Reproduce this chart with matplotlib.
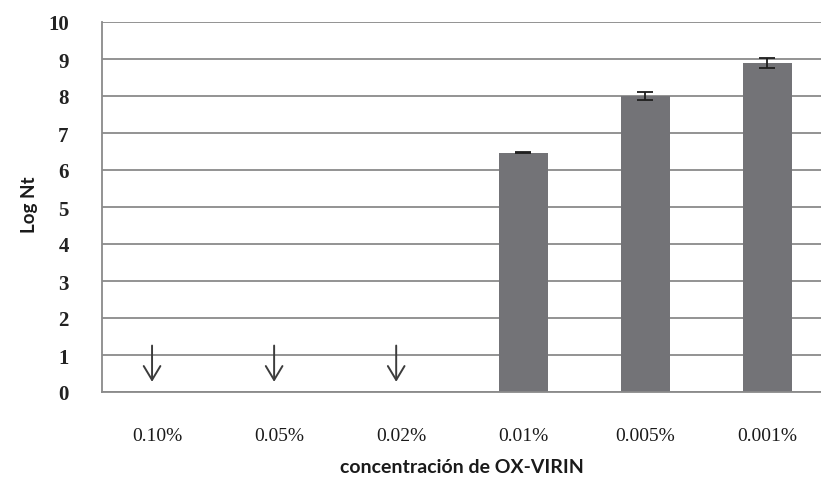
import numpy as np
import matplotlib
matplotlib.use("Agg")
import matplotlib.pyplot as plt

# Survival (Log Nt) at each OX-VIRIN concentration
categories = ["0.10%", "0.05%", "0.02%", "0.01%", "0.005%", "0.001%"]
log_nt = [np.nan, np.nan, np.nan, 6.47, 8.0, 8.9]
log_nt_err = [0.0, 0.0, 0.0, 0.02, 0.12, 0.14]
# concentrations with no surviving count (marked with a down arrow)
no_growth = [True, True, True, False, False, False]
y_ticks = list(range(0, 11))

W, H = 821, 489
fig = plt.figure(figsize=(W / 100, H / 100), dpi=100)
ax = fig.add_axes([102 / W, (H - 393) / H, (W - 102) / W, (393 - 23) / H])

x = np.arange(len(categories))
grid_col = "#8a8a8a"
ax.set_axisbelow(True)
ax.yaxis.grid(True, color=grid_col, linewidth=1.3)
ax.bar(x, log_nt, width=0.40, color="#737377", zorder=2)
ax.errorbar(x, log_nt, yerr=log_nt_err, fmt="none", ecolor="#1e1e1e",
            elinewidth=1.3, capsize=5.5, capthick=1.3, zorder=3)

for xi, flag in zip(x, no_growth):
    if flag:
        ax.annotate("", xy=(xi - 0.04, 0.2), xytext=(xi - 0.04, 1.33),
                    arrowprops=dict(arrowstyle="->,head_length=1.0,head_width=0.6",
                                    color="#3c3c3c", lw=1.4), zorder=4)

ax.set_xlim(-0.45, 5.44)
ax.set_ylim(0, 10)
ax.set_yticks(y_ticks)
ax.set_xticks(x)
ax.set_xticklabels(categories, fontfamily="Liberation Serif", fontsize=14, color="#1a1a1a")
ax.set_yticklabels([str(t) for t in y_ticks], fontfamily="Liberation Serif",
                   fontsize=15, fontweight="bold", color="#222222")
ax.tick_params(axis="y", length=0, pad=24)
ax.tick_params(axis="x", length=0, pad=25)

for side in ("top", "right"):
    ax.spines[side].set_visible(False)
for side in ("left", "bottom"):
    ax.spines[side].set_color("#8a8a8a")
    ax.spines[side].set_linewidth(1.3)

fig.text(30 / W, 1 - 205 / H, "Log Nt", rotation=90, ha="center", va="center",
         fontfamily="Lato", fontweight="bold", fontsize=13.5, color="#1a1a1a")
fig.text(462 / W, 1 - 468 / H, "concentración de OX-VIRIN", ha="center", va="center",
         fontfamily="Lato", fontweight="bold", fontsize=14, color="#1a1a1a")

fig.savefig("out.png", dpi=100, facecolor="white")
